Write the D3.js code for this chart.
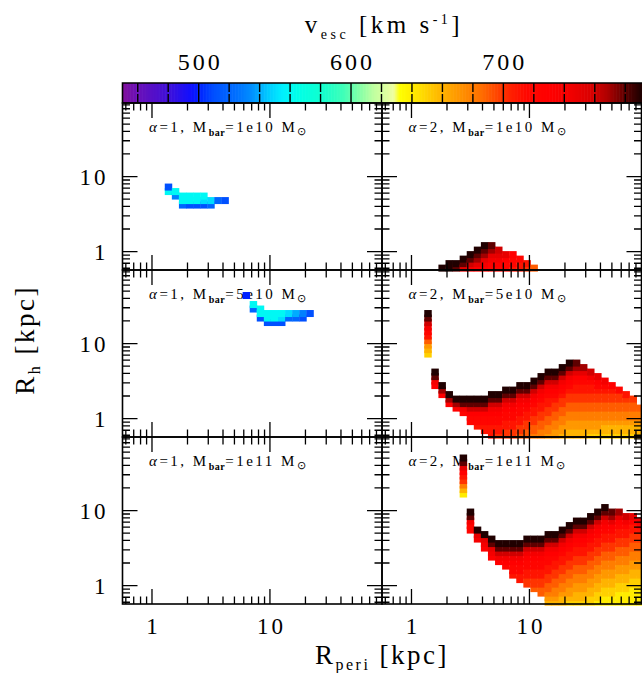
<!DOCTYPE html>
<html>
<head>
<meta charset="utf-8">
<script src="https://cdn.jsdelivr.net/npm/d3@7"></script>
<style>
  body { margin: 0; background: #fff; }
  text { font-family: "Liberation Serif", "Times New Roman", serif; fill: #000; }
</style>
</head>
<body>
<div id="chart"></div>
<script>
// ---- data ----
// grid of radii (kpc) the models were run on (same grid for Rperi and Rh)
var gridKpc = [0.6026, 0.6918, 0.7943, 0.9120, 1.0471, 1.2023, 1.3804, 1.5849, 1.8197, 2.0893,
  2.3988, 2.7542, 3.1623, 3.6308, 4.1687, 4.7863, 5.4954, 6.3096, 7.2444, 8.3176,
  9.5499, 10.965, 12.589, 14.454, 16.596, 19.055, 21.878, 25.119, 28.840, 33.113,
  38.019, 43.652, 50.119, 57.544, 66.069, 75.858, 87.096];

// v_esc codes: A=450, B=460 ... Z=700, a=710 ... i=790 km/s
var codeChars = "ABCDEFGHIJKLMNOPQRSTUVWXYZabcdefghi";

// each entry: [Rperi grid index, Rh grid index of top cell, v_esc codes from top to bottom]
var a1m1e10 = [[6,18,"GL"],[7,17,"LI"],[8,16,"LLH"],[9,16,"LLG"],[10,16,"LLG"],[11,16,"LKG"],
  [12,15,"KH"],[13,15,"H"],[14,15,"G"]];
var a2m1e10 = [[8,0,"i"],[9,1,"ii"],[10,1,"ih"],[11,2,"ihe"],[12,3,"ihfd"],[13,4,"ihgec"],
  [14,5,"ihgedc"],[15,5,"hgedcb"],[16,4,"fedcb"],[17,3,"ecbb"],[18,3,"cbba"],[19,2,"baa"],
  [20,1,"aZ"],[21,0,"Y"]];
var a1m5e10 = [[17,31,"F"],[18,29,"LH"],[19,28,"LLG"],[20,27,"LLG"],[21,27,"LLG"],[22,27,"LKG"],
  [23,27,"KH"],[24,27,"JH"],[25,27,"IG"],[26,27,"G"]];
var a2m5e10 = [[6,27,"ihfdbaYWVU"],[7,14,"ihdc"],[8,11,"igc"],[9,9,"igc"],[10,8,"igc"],
  [11,8,"ihdb"],[12,8,"ihfcbb"],[13,8,"ihfcbba"],[14,8,"ihfcbbaa"],[15,9,"ihfdcbbaaa"],
  [16,9,"ihfdcbbaaZ"],[17,10,"ihfdcbbaaZZ"],[18,10,"ihfdcbbaaZZ"],[19,11,"ihfdcbbaaZZY"],
  [20,11,"ihfdcbaaZZYY"],[21,12,"ihfdcbaaZZYYX"],[22,13,"ihfdcbaaZZYYXX"],
  [23,14,"ihfdcbaaZZYYXXW"],[24,14,"ihfdcbaZZYYXXWW"],[25,15,"ihfdcbaZZYYXXWWV"],
  [26,16,"ihfdcbaZZYYXXWWVV"],[27,16,"hgecbaaZZYYXXWWVV"],[28,15,"gecbaaZZYYXXWWVV"],
  [29,14,"fdbaaZZYYXXWWVU"],[30,13,"ecbaZZYYXXWWVU"],[31,12,"dbaZZYYXXWVVU"],
  [32,11,"caZZYYXXWVVU"],[33,10,"bZZYYXXWVVU"],[34,9,"aZYYXXWVVU"],[35,8,"ZYYXXWVVU"],
  [36,6,"YXXWVVU"]];
var a1m1e11 = [];
var a2m1e11 = [[11,32,"ihecaZXVT"],[12,20,"ihdbb"],[13,16,"ied"],[14,15,"iedc"],[15,14,"ihedc"],
  [16,13,"ihfdc"],[17,13,"ihfdcb"],[18,13,"ihfdcbba"],[19,13,"ihfdcbbaa"],[20,14,"ihfdcbbaaZZ"],
  [21,14,"ihfdcbbaaZZY"],[22,14,"ihfdcbbaaZZYY"],[23,15,"ihfdcbbaaZZYYXWV"],
  [24,15,"ihfdcbaaZZYYXXWV"],[25,16,"ihfdcbaaZZYYXXWVV"],[26,17,"ihfdcbaaZZYYXXWWVU"],
  [27,18,"ihfdcbaaZZYYXXWWVVU"],[28,18,"ihfdcbaaZZYYXXWWVVU"],[29,19,"ihfdcbaaZZYYXXWWVVUU"],
  [30,20,"ihfdcbaaZZYYXXWWVVUUT"],[31,21,"ihfdcbaaZZYYXXWWVVUUTT"],[32,20,"hgecbaaZZYYXXWWVVUUTT"],
  [33,20,"gecbaaZZYYXXWWVVUUTTT"],[34,19,"fdbaaZZYYXXWWVVUUTTT"],[35,19,"ecaaZZYYXXWWVVUUTTTT"],
  [36,18,"dbaZZYYXXWWVVUUTTTT"]];

var panelAlpha = ["1", "2", "1", "2", "1", "2"];
var panelMass = ["1e10", "1e10", "5e10", "5e10", "1e11", "1e11"];
var panelCells = [a1m1e10, a2m1e10, a1m5e10, a2m5e10, a1m1e11, a2m1e11];

var xTickLabels = ["1", "10"];
var yTickLabels = ["10", "1"];
var cbarTicks = [500, 600, 700];

// colour table of the v_esc bar
var cmapV = [450, 460, 480, 495, 500, 510, 525, 535, 545, 555, 565, 580, 595, 605, 615, 628, 632,
  645, 655, 670, 685, 695, 705, 715, 730, 745, 758, 768, 775, 782, 790, 800];
var cmapC = ["#80109a", "#6a10b8", "#4010d8", "#1010ff", "#0020ff", "#0050ff", "#0070ff", "#0090ff",
  "#00c8ff", "#00f0ff", "#00ffe8", "#10ffd0", "#40ffb8", "#80ffa8", "#c0ffa0", "#f0ffa0", "#ffff00",
  "#ffe000", "#ffc000", "#ff9800", "#ff7000", "#ff4800", "#ff2000", "#ff0800", "#ff0000", "#f00000",
  "#d80000", "#b00000", "#800000", "#500000", "#200000", "#100000"];

// ---- layout ----
var W = 642, H = 673;
var colX = [122.5, 382], rowY = [103, 270, 437];
var pw = 259.5, ph = 167;

var svg = d3.select('#chart').append('svg')
  .attr('width', W)
  .attr('height', H);

var color = d3.scaleLinear().domain(cmapV).range(cmapC).clamp(true);

// ---- colour bar ----
var cb = d3.scaleLinear().domain([450, 791]).range([122.5, 642]);
var cbTop = 83, cbH = 20;
var cbSteps = d3.range(450, 791, 1);
svg.append('g').selectAll('rect')
  .data(cbSteps)
  .enter()
  .append('rect')
  .attr('x', function(d){ return cb(d); })
  .attr('y', cbTop)
  .attr('width', cb(451) - cb(450) + 0.6)
  .attr('height', cbH)
  .attr('fill', function(d){ return color(d + 0.5); });

var cbMinor = d3.range(460, 791, 20);
svg.append('g').selectAll('path')
  .data(cbMinor)
  .enter()
  .append('path')
  .attr('d', function(d){
    var x = cb(d);
    if (d % 100 == 0) return 'M' + x + ',' + cbTop + 'V' + (cbTop + cbH);
    return 'M' + x + ',' + cbTop + 'v9M' + x + ',' + (cbTop + cbH) + 'v-9';
  })
  .attr('stroke', '#000')
  .attr('stroke-width', 1.4);
svg.append('path')
  .attr('d', 'M643,' + cbTop + 'H122.5V' + (cbTop + cbH) + 'H643')
  .attr('fill', 'none')
  .attr('stroke', '#000')
  .attr('stroke-width', 1.6);

svg.append('g').selectAll('text')
  .data(cbarTicks)
  .enter()
  .append('text')
  .attr('x', function(d){ return cb(d) + 1.5; })
  .attr('y', 70)
  .attr('text-anchor', 'middle')
  .attr('font-size', 24)
  .attr('letter-spacing', 3)
  .text(function(d){ return d; });

var title = svg.append('text')
  .attr('x', 384)
  .attr('y', 33)
  .attr('text-anchor', 'middle')
  .attr('font-size', 25)
  .attr('letter-spacing', 3.5);
title.append('tspan').text('v');
title.append('tspan').attr('font-size', 14).attr('dy', 6).text('esc');
title.append('tspan').attr('dy', -6).text(' [km s');
title.append('tspan').attr('font-size', 14).attr('dy', -9).text('-1');
title.append('tspan').attr('dy', 9).text(']');

// ---- panels ----
panelCells.forEach(function(cols, p){
  var r = Math.floor(p / 2), c = p % 2;
  var x0 = colX[c], y0 = rowY[r];
  var x = d3.scaleLog().domain([Math.pow(10, -0.25), Math.pow(10, 1.95)]).range([x0, x0 + pw]);
  var y = d3.scaleLog().domain([Math.pow(10, -0.245), Math.pow(10, 1.98)]).range([y0 + ph, y0]);
  var g = svg.append('g');

  // label
  var lab = g.append('text')
    .attr('x', x0 + 26.5)
    .attr('y', y0 + 29)
    .attr('font-size', 15)
    .attr('letter-spacing', 2.5);
  lab.append('tspan').attr('font-style', 'italic').text('\u03b1');
  lab.append('tspan').text('=' + panelAlpha[p] + ', M');
  lab.append('tspan').attr('font-size', 10).attr('font-weight', 'bold').attr('letter-spacing', 0.5).attr('dy', 4).text('bar');
  lab.append('tspan').attr('dy', -4).text('=' + panelMass[p] + ' M');
  lab.append('tspan').attr('font-size', 11).attr('dy', 3).text('\u2299');

  // cells, drawn from the bottom row upwards
  var cells = [];
  cols.forEach(function(col){
    for (var k = col[2].length - 1; k >= 0; k--) {
      cells.push({rp: gridKpc[col[0]], rh: gridKpc[col[1] - k], v: 450 + 10 * codeChars.indexOf(col[2][k])});
    }
  });
  var cw = x(gridKpc[1]) - x(gridKpc[0]) + 0.4;
  g.append('g').selectAll('rect')
    .data(cells)
    .enter()
    .append('rect')
    .attr('x', function(d){ return x(d.rp) - cw / 2; })
    .attr('y', function(d){ return y(d.rh) - 3.5; })
    .attr('width', cw)
    .attr('height', 7)
    .attr('fill', function(d){ return color(d.v); });

  // ticks on all four sides
  var xt = x.ticks(), yt = y.ticks();
  function isMajor(v){ return Math.abs(Math.log10(v) - Math.round(Math.log10(v))) < 1e-6; }
  var tp = '';
  xt.forEach(function(v){
    var L = isMajor(v) ? 15 : 7.5, px = x(v);
    tp += 'M' + px + ',' + (y0 + ph) + 'v' + (-L) + 'M' + px + ',' + y0 + 'v' + L;
  });
  yt.forEach(function(v){
    var L = isMajor(v) ? 15 : 7.5, py = y(v);
    tp += 'M' + x0 + ',' + py + 'h' + L + 'M' + (x0 + pw) + ',' + py + 'h' + (-L);
  });
  g.append('path').attr('d', tp).attr('stroke', '#000').attr('stroke-width', 1.3).attr('fill', 'none');
  g.append('rect')
    .attr('x', x0).attr('y', y0).attr('width', pw).attr('height', ph)
    .attr('fill', 'none').attr('stroke', '#000').attr('stroke-width', 1.6);

  if (c == 0) {
    g.selectAll('text.yl')
      .data(yTickLabels)
      .enter()
      .append('text')
      .attr('class', 'yl')
      .attr('x', x0 - 14)
      .attr('y', function(d){ return y(+d) + 8; })
      .attr('text-anchor', 'end')
      .attr('font-size', 23)
      .attr('letter-spacing', 3)
      .text(function(d){ return d; });
  }
  if (r == 2) {
    g.selectAll('text.xl')
      .data(xTickLabels)
      .enter()
      .append('text')
      .attr('class', 'xl')
      .attr('x', function(d){ return x(+d) + 1.5; })
      .attr('y', 634)
      .attr('text-anchor', 'middle')
      .attr('font-size', 23)
      .attr('letter-spacing', 3)
      .text(function(d){ return d; });
  }
});

// axis titles
var xt = svg.append('text')
  .attr('x', 382)
  .attr('y', 664)
  .attr('text-anchor', 'middle')
  .attr('font-size', 27)
  .attr('letter-spacing', 2.5);
xt.append('tspan').text('R');
xt.append('tspan').attr('font-size', 16).attr('dy', 6).text('peri');
xt.append('tspan').attr('dy', -6).text(' [kpc]');

var yt = svg.append('text')
  .attr('transform', 'translate(34,340) rotate(-90)')
  .attr('text-anchor', 'middle')
  .attr('font-size', 27)
  .attr('letter-spacing', 2.5);
yt.append('tspan').text('R');
yt.append('tspan').attr('font-size', 16).attr('dy', 6).text('h');
yt.append('tspan').attr('dy', -6).text(' [kpc]');
</script>
</body>
</html>
